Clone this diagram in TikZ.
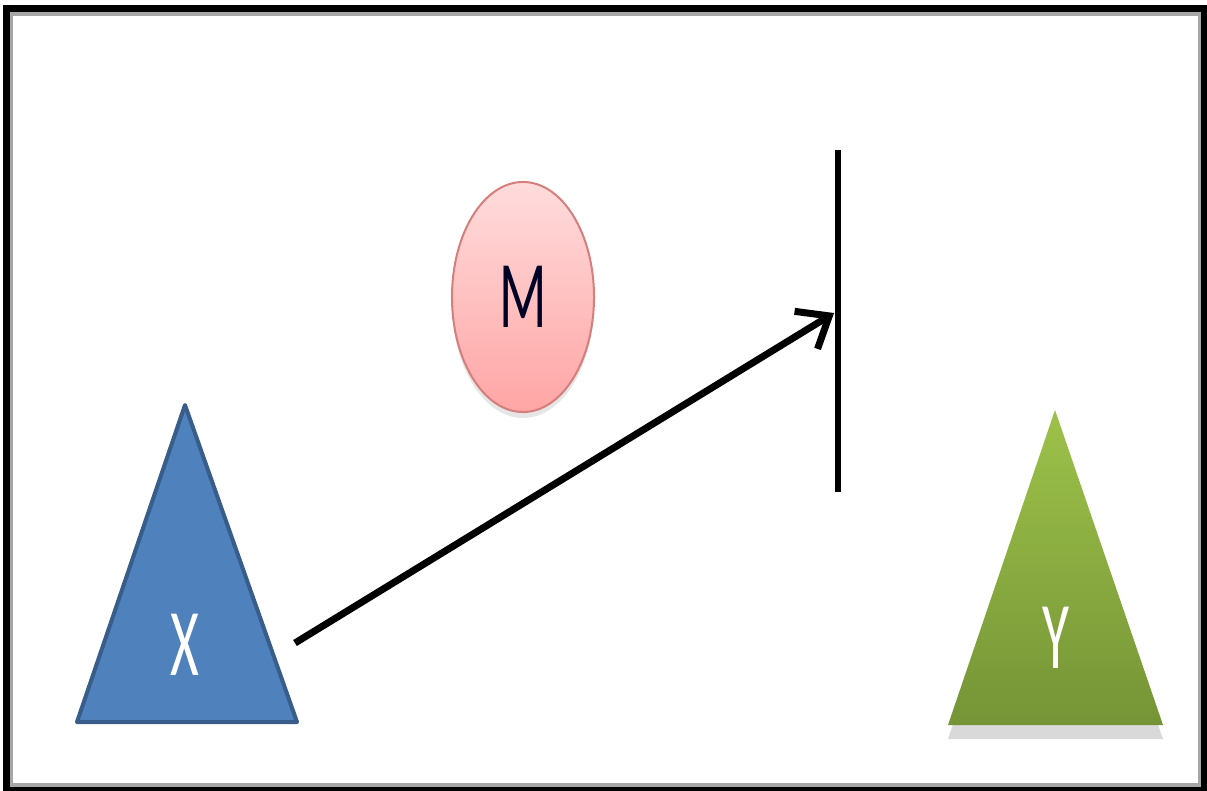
\documentclass[tikz,border=0pt]{standalone}
\usepackage{fontspec}
\setmainfont{Carlito}
\usepackage{tikz}
\usetikzlibrary{arrows.meta, shapes.geometric, shadows}
\definecolor{xblue}{RGB}{79,129,189}
\definecolor{xblueedge}{RGB}{56,93,138}
\definecolor{ygreentop}{RGB}{157,194,74}
\definecolor{ygreenbot}{RGB}{117,148,54}
\definecolor{mpinktop}{RGB}{255,220,220}
\definecolor{mpinkbot}{RGB}{255,165,165}
\definecolor{mpinkedge}{RGB}{214,126,124}

\begin{document}
\begin{tikzpicture}[
  x=0.025cm, y=-0.025cm,
  every node/.style={font=\fontsize{68}{68}\selectfont},
  letter/.style={inner sep=0pt, xscale=0.58},
  frame/.style={line width=0.16cm},
  bar/.style={line width=0.15cm},
  arrow/.style={-{Straight Barb[length=0.68cm, width=1.1cm]}, line width=0.175cm},
  oval/.style={ellipse, draw=mpinkedge, line width=0.05cm, top color=mpinktop, bottom color=mpinkbot, minimum width=3.55cm, minimum height=5.75cm, inner sep=0pt},
  soft/.style={drop shadow={shadow xshift=0cm, shadow yshift=-0.15cm, opacity=0.2}},
  deep/.style={drop shadow={shadow xshift=0cm, shadow yshift=-0.35cm, opacity=0.3}}
]
  \useasboundingbox (0,0) rectangle (1207,790);

  % outer frame
  \draw[gray!70, line width=0.08cm] (11,14) rectangle (1199.5,785);
  \draw[frame] (6.5,8.5) rectangle (1204,790);

  % left triangle
  \filldraw[fill=xblue, draw=xblueedge, line width=0.1cm, line join=round] (185,405) -- (297,722) -- (77,722) -- cycle;
  \node[letter, text=white] (labX) at (185,645) {X};

  % right triangle
  \shade[deep, top color=ygreentop, bottom color=ygreenbot] (1055,410) -- (1163,725) -- (948,725) -- cycle;
  \node[letter, text=white] (labY) at (1056,638) {Y};

  % oval
  \node[oval, soft] (circM) at (523,297) {};
  \node[letter, text=black!85!blue] (labM) at (circM) {M};

  % barrier and arrow
  \coordinate (bartop) at (838,150);
  \coordinate (barbot) at (838,492);
  \coordinate (start) at (295,643);
  \coordinate (hit) at (834,313);
  \draw[bar] (bartop) -- (barbot);
  \draw[arrow] (start) -- (hit);

\end{tikzpicture}
\end{document}
